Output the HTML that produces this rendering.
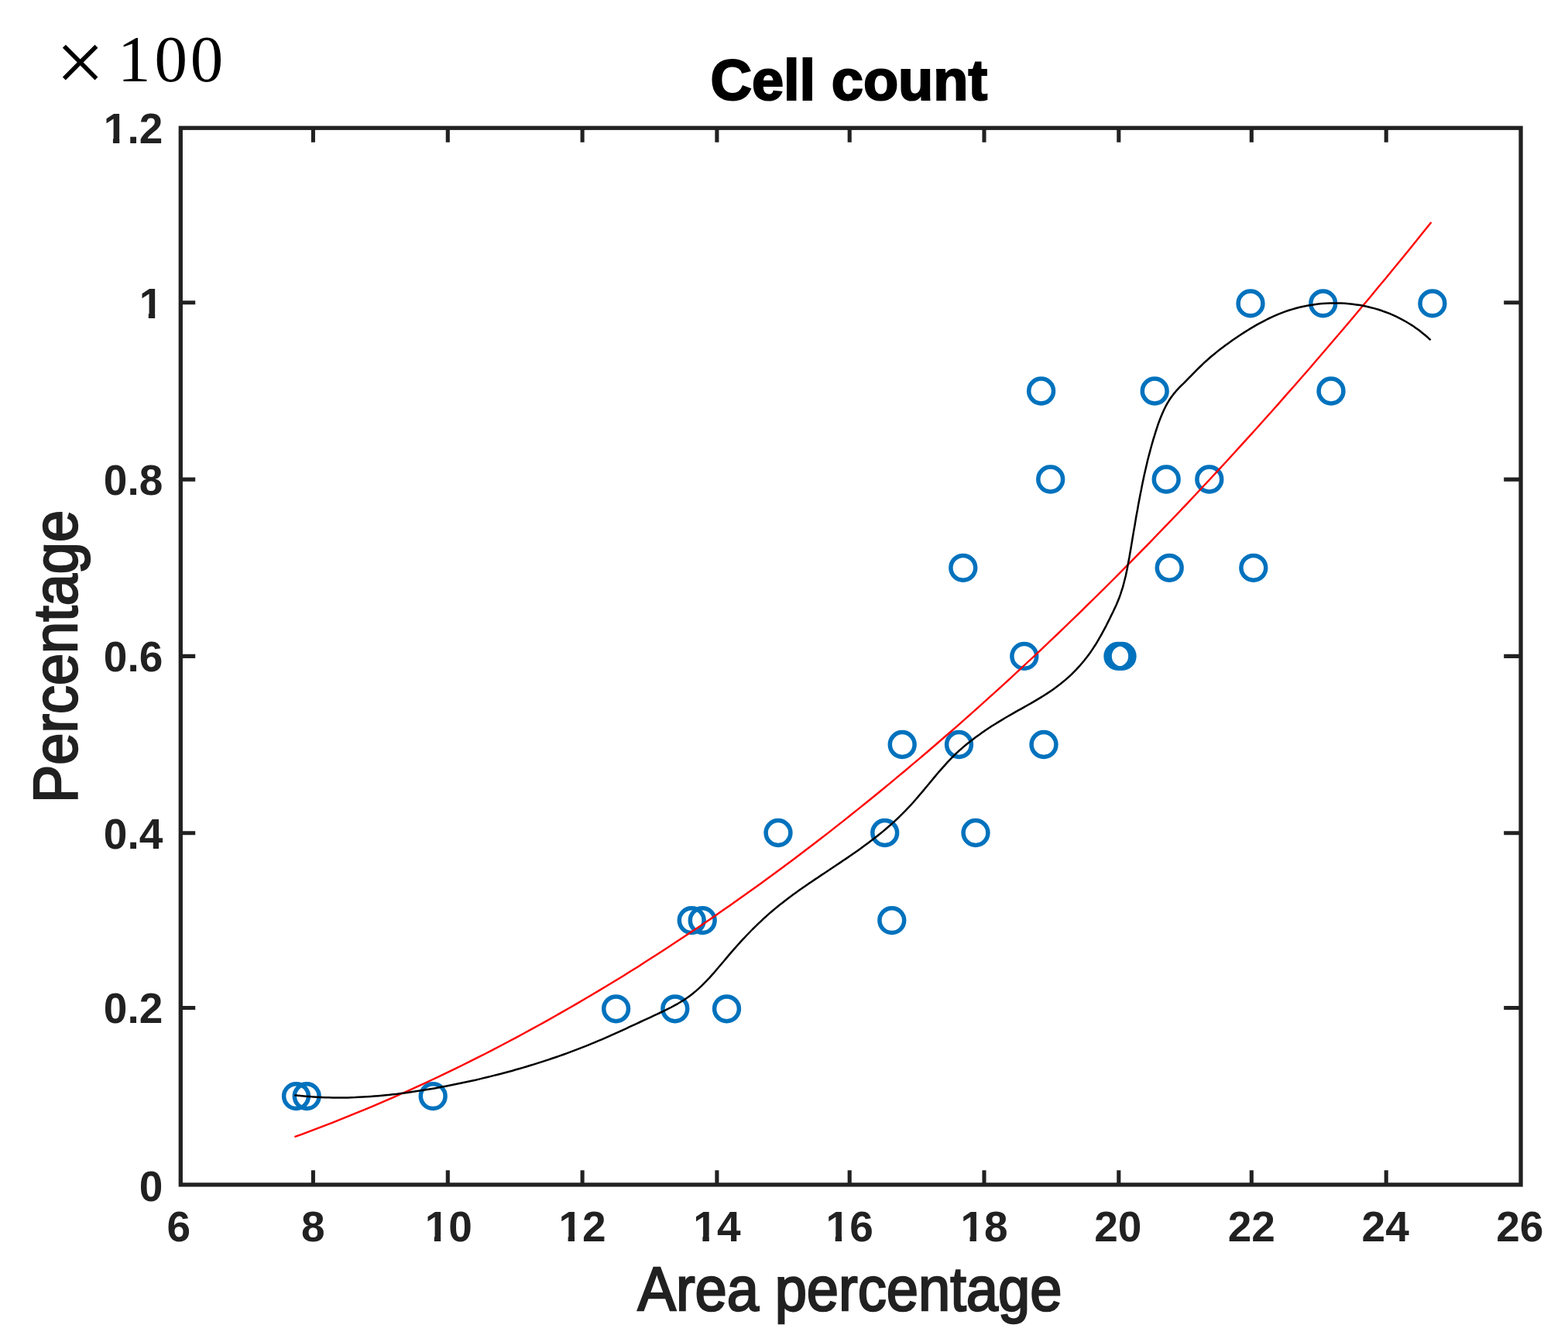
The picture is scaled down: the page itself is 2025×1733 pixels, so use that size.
<!DOCTYPE html>
<html><head><meta charset="utf-8"><title>Cell count</title>
<style>html,body{margin:0;padding:0;background:#fff;overflow:hidden;}svg{display:block;}</style>
</head><body>
<svg width="2025" height="1733" viewBox="0 0 2025 1733">
<rect width="2025" height="1733" fill="#fff"/>
<g fill="none" stroke="#0072BD" stroke-width="5.5">
<circle cx="382.5" cy="1415.6" r="15.9"/>
<circle cx="396.2" cy="1415.6" r="15.9"/>
<circle cx="559.2" cy="1415.6" r="15.9"/>
<circle cx="795.6" cy="1302.8" r="15.9"/>
<circle cx="871.8" cy="1302.8" r="15.9"/>
<circle cx="938.5" cy="1302.8" r="15.9"/>
<circle cx="893.2" cy="1188.6" r="15.9"/>
<circle cx="907.2" cy="1188.6" r="15.9"/>
<circle cx="1151.8" cy="1188.6" r="15.9"/>
<circle cx="1005" cy="1075.5" r="15.9"/>
<circle cx="1142.7" cy="1075.5" r="15.9"/>
<circle cx="1260" cy="1075.5" r="15.9"/>
<circle cx="1165.2" cy="961.5" r="15.9"/>
<circle cx="1238.5" cy="961.5" r="15.9"/>
<circle cx="1348" cy="961.5" r="15.9"/>
<circle cx="1322.8" cy="847.4" r="15.9"/>
<circle cx="1444" cy="847.4" r="15.9"/>
<circle cx="1449" cy="847.4" r="15.9"/>
<circle cx="1243.8" cy="733.3" r="15.9"/>
<circle cx="1510.2" cy="733.3" r="15.9"/>
<circle cx="1618.8" cy="733.3" r="15.9"/>
<circle cx="1356.7" cy="619" r="15.9"/>
<circle cx="1506.2" cy="619" r="15.9"/>
<circle cx="1561.8" cy="619" r="15.9"/>
<circle cx="1344.6" cy="505" r="15.9"/>
<circle cx="1491.2" cy="505" r="15.9"/>
<circle cx="1719" cy="505" r="15.9"/>
<circle cx="1615" cy="391.9" r="15.9"/>
<circle cx="1708.7" cy="391.9" r="15.9"/>
<circle cx="1849.9" cy="391.9" r="15.9"/>
</g>
<path d="M380.4,1468.2 L390.3,1464.6 L400.1,1460.9 L410.0,1457.2 L419.8,1453.4 L429.7,1449.6 L439.5,1445.7 L449.4,1441.7 L459.2,1437.7 L469.1,1433.7 L478.9,1429.6 L488.8,1425.4 L498.6,1421.1 L508.5,1416.8 L518.3,1412.5 L528.2,1408.1 L538.0,1403.6 L547.9,1399.1 L557.7,1394.5 L567.6,1389.8 L577.4,1385.1 L587.3,1380.3 L597.2,1375.5 L607.0,1370.6 L616.9,1365.7 L626.7,1360.7 L636.6,1355.6 L646.4,1350.5 L656.3,1345.3 L666.1,1340.1 L676.0,1334.8 L685.8,1329.4 L695.7,1324.0 L705.5,1318.6 L715.4,1313.0 L725.2,1307.4 L735.1,1301.8 L744.9,1296.1 L754.8,1290.3 L764.6,1284.5 L774.5,1278.6 L784.3,1272.7 L794.2,1266.7 L804.1,1260.7 L813.9,1254.5 L823.8,1248.4 L833.6,1242.1 L843.5,1235.8 L853.3,1229.5 L863.2,1223.1 L873.0,1216.6 L882.9,1210.1 L892.7,1203.5 L902.6,1196.9 L912.4,1190.2 L922.3,1183.4 L932.1,1176.6 L942.0,1169.7 L951.8,1162.8 L961.7,1155.8 L971.5,1148.8 L981.4,1141.7 L991.2,1134.5 L1001.1,1127.3 L1011.0,1120.0 L1020.8,1112.7 L1030.7,1105.3 L1040.5,1097.8 L1050.4,1090.3 L1060.2,1082.7 L1070.1,1075.1 L1079.9,1067.4 L1089.8,1059.6 L1099.6,1051.8 L1109.5,1043.9 L1119.3,1036.0 L1129.2,1028.0 L1139.0,1020.0 L1148.9,1011.9 L1158.7,1003.7 L1168.6,995.5 L1178.4,987.2 L1188.3,978.9 L1198.1,970.5 L1208.0,962.0 L1217.8,953.5 L1227.7,945.0 L1237.6,936.3 L1247.4,927.6 L1257.3,918.9 L1267.1,910.1 L1277.0,901.2 L1286.8,892.3 L1296.7,883.3 L1306.5,874.3 L1316.4,865.2 L1326.2,856.0 L1336.1,846.8 L1345.9,837.6 L1355.8,828.2 L1365.6,818.8 L1375.5,809.4 L1385.3,799.9 L1395.2,790.3 L1405.0,780.7 L1414.9,771.0 L1424.7,761.3 L1434.6,751.5 L1444.5,741.6 L1454.3,731.7 L1464.2,721.7 L1474.0,711.7 L1483.9,701.6 L1493.7,691.4 L1503.6,681.2 L1513.4,671.0 L1523.3,660.6 L1533.1,650.3 L1543.0,639.8 L1552.8,629.3 L1562.7,618.8 L1572.5,608.1 L1582.4,597.5 L1592.2,586.7 L1602.1,575.9 L1611.9,565.1 L1621.8,554.2 L1631.6,543.2 L1641.5,532.2 L1651.4,521.1 L1661.2,509.9 L1671.1,498.7 L1680.9,487.5 L1690.8,476.2 L1700.6,464.8 L1710.5,453.3 L1720.3,441.8 L1730.2,430.3 L1740.0,418.7 L1749.9,407.0 L1759.7,395.3 L1769.6,383.5 L1779.4,371.6 L1789.3,359.7 L1799.1,347.8 L1809.0,335.7 L1818.8,323.7 L1828.7,311.5 L1838.5,299.3 L1848.4,287.1" fill="none" stroke="#ff0000" stroke-width="2.4" stroke-linejoin="round"/>
<path d="M380.3,1414.2 L385.3,1414.8 L390.2,1415.3 L395.1,1415.7 L400.0,1416.1 L405.0,1416.5 L409.9,1416.8 L414.8,1417.0 L419.7,1417.2 L424.6,1417.3 L429.6,1417.4 L434.5,1417.5 L439.4,1417.5 L444.3,1417.4 L449.2,1417.4 L454.1,1417.2 L459.0,1417.1 L463.8,1416.8 L468.7,1416.6 L473.6,1416.3 L478.5,1416.0 L483.4,1415.6 L488.3,1415.2 L493.1,1414.8 L498.0,1414.3 L502.9,1413.8 L507.7,1413.2 L512.6,1412.7 L517.4,1412.1 L522.3,1411.4 L527.2,1410.8 L532.0,1410.1 L536.8,1409.3 L541.7,1408.6 L546.5,1407.8 L551.4,1407.0 L556.2,1406.2 L561.0,1405.4 L565.9,1404.5 L570.7,1403.6 L575.5,1402.7 L580.3,1401.8 L585.1,1400.8 L590.0,1399.8 L594.8,1398.8 L599.6,1397.8 L604.4,1396.8 L609.2,1395.7 L614.0,1394.7 L618.7,1393.6 L623.5,1392.4 L628.3,1391.3 L633.1,1390.1 L637.8,1388.9 L642.6,1387.7 L647.4,1386.5 L652.1,1385.2 L656.8,1384.0 L661.6,1382.7 L666.3,1381.3 L671.0,1380.0 L675.7,1378.6 L680.4,1377.2 L685.1,1375.8 L689.8,1374.4 L694.5,1372.9 L699.2,1371.4 L703.8,1369.9 L708.5,1368.4 L713.1,1366.8 L717.8,1365.2 L722.4,1363.6 L727.0,1362.0 L731.6,1360.3 L736.2,1358.6 L740.8,1356.9 L745.4,1355.1 L749.9,1353.4 L754.5,1351.6 L759.0,1349.8 L763.6,1347.9 L768.1,1346.1 L772.6,1344.2 L777.1,1342.3 L781.6,1340.3 L786.1,1338.4 L790.5,1336.4 L795.0,1334.4 L799.5,1332.4 L803.9,1330.3 L808.4,1328.3 L812.8,1326.2 L817.3,1324.2 L821.8,1322.1 L826.2,1320.0 L830.7,1317.9 L835.2,1315.9 L839.7,1313.8 L844.2,1311.7 L848.7,1309.6 L853.1,1307.5 L857.6,1305.4 L862.0,1303.2 L866.4,1301.0 L870.7,1298.6 L875.0,1296.3 L879.2,1293.8 L883.4,1291.2 L887.4,1288.5 L891.3,1285.7 L895.1,1282.7 L898.9,1279.6 L902.5,1276.4 L906.0,1273.1 L909.5,1269.6 L912.9,1266.1 L916.3,1262.6 L919.6,1258.9 L922.8,1255.3 L926.0,1251.5 L929.2,1247.8 L932.4,1244.0 L935.6,1240.2 L938.8,1236.4 L942.0,1232.6 L945.2,1228.9 L948.5,1225.2 L951.7,1221.5 L955.0,1217.8 L958.3,1214.2 L961.7,1210.6 L965.1,1207.0 L968.5,1203.5 L971.9,1200.0 L975.4,1196.6 L978.9,1193.1 L982.5,1189.8 L986.0,1186.4 L989.7,1183.2 L993.3,1179.9 L997.0,1176.7 L1000.7,1173.6 L1004.5,1170.5 L1008.3,1167.4 L1012.2,1164.4 L1016.0,1161.4 L1020.0,1158.5 L1023.9,1155.6 L1027.9,1152.7 L1031.9,1149.8 L1035.9,1147.0 L1039.9,1144.2 L1043.9,1141.4 L1048.0,1138.7 L1052.1,1135.9 L1056.2,1133.2 L1060.3,1130.4 L1064.4,1127.7 L1068.5,1125.0 L1072.6,1122.3 L1076.7,1119.5 L1080.8,1116.8 L1084.8,1114.1 L1088.9,1111.3 L1093.0,1108.6 L1097.1,1105.8 L1101.1,1103.0 L1105.1,1100.2 L1109.1,1097.4 L1113.1,1094.5 L1117.1,1091.6 L1121.0,1088.7 L1124.9,1085.8 L1128.8,1082.8 L1132.7,1079.8 L1136.5,1076.7 L1140.3,1073.6 L1144.0,1070.5 L1147.7,1067.3 L1151.4,1064.1 L1155.0,1060.8 L1158.6,1057.5 L1162.1,1054.1 L1165.6,1050.7 L1169.1,1047.2 L1172.4,1043.7 L1175.8,1040.1 L1179.1,1036.5 L1182.3,1032.8 L1185.5,1029.1 L1188.7,1025.3 L1191.9,1021.6 L1195.0,1017.8 L1198.2,1014.0 L1201.3,1010.2 L1204.5,1006.4 L1207.6,1002.6 L1210.8,998.8 L1214.0,995.1 L1217.3,991.4 L1220.5,987.8 L1223.8,984.1 L1227.2,980.6 L1230.6,977.1 L1234.1,973.7 L1237.7,970.3 L1241.3,967.1 L1245.0,963.9 L1248.8,960.7 L1252.6,957.7 L1256.5,954.7 L1260.4,951.7 L1264.4,948.9 L1268.4,946.0 L1272.4,943.2 L1276.5,940.5 L1280.6,937.8 L1284.8,935.2 L1289.0,932.6 L1293.2,930.1 L1297.4,927.5 L1301.7,925.0 L1305.9,922.6 L1310.2,920.2 L1314.5,917.7 L1318.8,915.3 L1323.1,912.9 L1327.3,910.5 L1331.6,908.1 L1335.8,905.6 L1340.0,903.1 L1344.2,900.6 L1348.4,898.0 L1352.5,895.4 L1356.5,892.7 L1360.5,889.9 L1364.5,887.0 L1368.4,884.1 L1372.2,881.0 L1376.0,877.9 L1379.7,874.6 L1383.3,871.3 L1386.8,867.8 L1390.2,864.3 L1393.6,860.7 L1396.8,857.0 L1400.0,853.2 L1403.1,849.3 L1406.0,845.4 L1408.9,841.4 L1411.6,837.4 L1414.3,833.3 L1416.9,829.1 L1419.3,824.9 L1421.8,820.7 L1424.1,816.4 L1426.4,812.1 L1428.7,807.8 L1430.9,803.4 L1433.1,799.0 L1435.2,794.6 L1437.4,790.2 L1439.5,785.7 L1441.6,781.2 L1443.5,776.7 L1445.3,772.2 L1447.0,767.6 L1448.5,762.9 L1450.0,758.3 L1451.3,753.5 L1452.5,748.8 L1453.7,744.0 L1454.7,739.3 L1455.7,734.5 L1456.6,729.6 L1457.5,724.8 L1458.4,720.0 L1459.2,715.1 L1460.1,710.3 L1460.9,705.5 L1461.7,700.6 L1462.5,695.8 L1463.3,690.9 L1464.1,686.1 L1465.0,681.3 L1465.8,676.5 L1466.6,671.6 L1467.4,666.8 L1468.3,662.0 L1469.2,657.2 L1470.0,652.4 L1470.9,647.6 L1471.8,642.8 L1472.7,637.9 L1473.7,633.2 L1474.6,628.4 L1475.6,623.6 L1476.6,618.8 L1477.6,614.0 L1478.7,609.2 L1479.8,604.5 L1480.9,599.7 L1482.0,594.9 L1483.2,590.2 L1484.5,585.4 L1485.7,580.7 L1487.0,576.0 L1488.4,571.2 L1489.7,566.5 L1491.2,561.8 L1492.6,557.1 L1494.2,552.4 L1495.7,547.7 L1497.4,543.1 L1499.2,538.5 L1501.1,534.0 L1503.1,529.5 L1505.2,525.2 L1507.5,520.9 L1510.0,516.8 L1512.7,512.8 L1515.6,508.9 L1518.7,505.2 L1521.9,501.7 L1525.3,498.2 L1528.8,494.8 L1532.2,491.3 L1535.6,487.9 L1539.1,484.4 L1542.5,480.9 L1545.9,477.4 L1549.4,474.0 L1552.9,470.6 L1556.5,467.2 L1560.1,464.0 L1563.8,460.8 L1567.5,457.7 L1571.3,454.6 L1575.1,451.6 L1578.9,448.7 L1582.8,445.7 L1586.8,442.9 L1590.8,440.1 L1594.8,437.3 L1598.9,434.5 L1603.0,431.8 L1607.1,429.1 L1611.3,426.5 L1615.5,423.9 L1619.8,421.4 L1624.0,418.9 L1628.4,416.6 L1632.7,414.3 L1637.1,412.0 L1641.6,409.9 L1646.0,407.9 L1650.6,405.9 L1655.1,404.1 L1659.7,402.4 L1664.4,400.8 L1669.1,399.4 L1673.8,398.0 L1678.5,396.8 L1683.3,395.7 L1688.1,394.7 L1693.0,393.9 L1697.8,393.2 L1702.7,392.6 L1707.5,392.1 L1712.4,391.7 L1717.3,391.5 L1722.2,391.4 L1727.1,391.4 L1732.0,391.6 L1736.9,391.8 L1741.8,392.2 L1746.7,392.7 L1751.5,393.4 L1756.3,394.1 L1761.2,395.0 L1765.9,396.0 L1770.7,397.2 L1775.4,398.4 L1780.1,399.8 L1784.7,401.3 L1789.3,403.0 L1793.9,404.7 L1798.4,406.6 L1802.9,408.7 L1807.3,410.8 L1811.6,413.1 L1815.9,415.5 L1820.1,418.0 L1824.3,420.6 L1828.3,423.4 L1832.4,426.3 L1836.3,429.4 L1840.1,432.5 L1843.9,435.8 L1847.6,439.2" fill="none" stroke="#000" stroke-width="2.5" stroke-linejoin="round"/>
<g stroke="#212121" fill="none">
<rect x="233.3" y="165.25" width="1730.75" height="1364.65" stroke-width="5.3"/>
<path d="M404.4,165.25V183.8M404.4,1529.9V1511.2M578.3,165.25V183.8M578.3,1529.9V1511.2M752.1,165.25V183.8M752.1,1529.9V1511.2M925.9,165.25V183.8M925.9,1529.9V1511.2M1097.2,165.25V183.8M1097.2,1529.9V1511.2M1271.0,165.25V183.8M1271.0,1529.9V1511.2M1444.8,165.25V183.8M1444.8,1529.9V1511.2M1616.3,165.25V183.8M1616.3,1529.9V1511.2M1790.2,165.25V183.8M1790.2,1529.9V1511.2M233.3,1301.5H252.2M1964.05,1301.5H1942.2M233.3,1075.8H252.2M1964.05,1075.8H1942.2M233.3,847.4H252.2M1964.05,847.4H1942.2M233.3,619.1H252.2M1964.05,619.1H1942.2M233.3,390.8H252.2M1964.05,390.8H1942.2" stroke-width="5.1"/>
</g>
<defs><clipPath id="nofoot"><path clip-rule="evenodd" d="M0,0H2025V1733H0ZM550.2,1595.6H560.8V1604.1H550.2ZM569.2,1595.6H578.5V1604.1H569.2ZM723.0,1595.6H733.6V1604.1H723.0ZM742.0,1595.6H751.3V1604.1H742.0ZM896.8,1595.6H907.4V1604.1H896.8ZM915.8,1595.6H925.1V1604.1H915.8ZM1068.1,1595.6H1078.7V1604.1H1068.1ZM1087.1,1595.6H1096.4V1604.1H1087.1ZM1241.9,1595.6H1252.5V1604.1H1241.9ZM1260.9,1595.6H1270.2V1604.1H1260.9ZM181.2,403.7H191.8V412.2H181.2ZM200.2,403.7H209.5V412.2H200.2ZM135.3,178.0H145.9V186.5H135.3ZM154.3,178.0H163.6V186.5H154.3Z"/></clipPath></defs>
<g font-family="Liberation Sans, Arial, sans-serif" font-size="55.0" font-weight="bold" fill="#212121" clip-path="url(#nofoot)">
<text x="230.9" y="1602.6" text-anchor="middle">6</text>
<text x="404.4" y="1602.6" text-anchor="middle">8</text>
<text x="579.3" y="1602.6" text-anchor="middle">10</text>
<text x="752.1" y="1602.6" text-anchor="middle">12</text>
<text x="925.9" y="1602.6" text-anchor="middle">14</text>
<text x="1097.2" y="1602.6" text-anchor="middle">16</text>
<text x="1271.0" y="1602.6" text-anchor="middle">18</text>
<text x="1443.8" y="1602.6" text-anchor="middle">20</text>
<text x="1616.3" y="1602.6" text-anchor="middle">22</text>
<text x="1789.2" y="1602.6" text-anchor="middle">24</text>
<text x="1962.8" y="1602.6" text-anchor="middle">26</text>
<text x="210.3" y="1551.3" text-anchor="end">0</text>
<text x="210.3" y="1321.4" text-anchor="end">0.2</text>
<text x="210.3" y="1095.8" text-anchor="end">0.4</text>
<text x="210.3" y="867.4" text-anchor="end">0.6</text>
<text x="210.3" y="639.1" text-anchor="end">0.8</text>
<text x="210.3" y="410.7" text-anchor="end">1</text>
<text x="210.3" y="185.0" text-anchor="end">1.2</text>
</g>
<text x="1096.3" y="129.0" font-family="Liberation Sans, Arial, sans-serif" font-size="74.0" font-weight="bold" fill="#000" stroke="#000" stroke-width="2.2" text-anchor="middle">Cell count</text>
<text x="823.5" y="1692.0" font-family="Liberation Sans, Arial, sans-serif" font-size="80.0" fill="#212121" stroke="#212121" stroke-width="2.4" textLength="548" lengthAdjust="spacingAndGlyphs">Area percentage</text>
<text transform="translate(98.6,1037) rotate(-90)" x="0" y="0" font-family="Liberation Sans, Arial, sans-serif" font-size="80.0" fill="#212121" stroke="#212121" stroke-width="2.4" textLength="378" lengthAdjust="spacingAndGlyphs">Percentage</text>
<text x="72" y="118" font-family="Liberation Serif, serif" font-size="112" fill="#000">×</text>
<text x="152 199.6 245.8" y="105.3" font-family="Liberation Serif, serif" font-size="85" fill="#000">100</text>
</svg>
</body></html>
